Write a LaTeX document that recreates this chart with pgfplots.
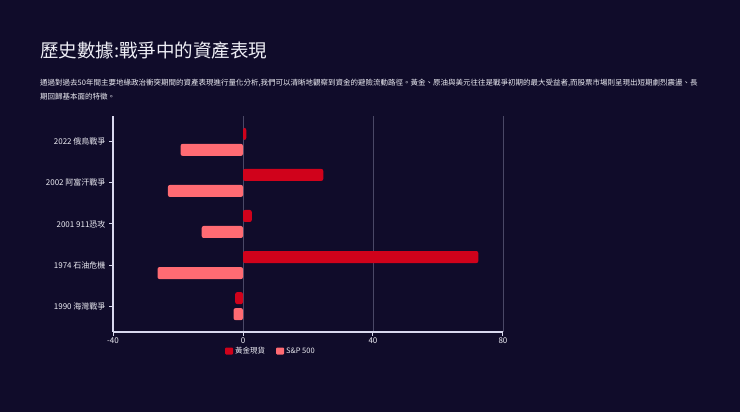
\documentclass[border=0pt]{standalone}
\usepackage{pgfplots}
\pgfplotsset{compat=1.18}
\usepackage{pgfplotstable}
\usepackage{fontspec}
\setmainfont{Noto Sans CJK TC}
\definecolor{bg}{HTML}{100C2A}
\definecolor{gold}{HTML}{D0021B}
\definecolor{spc}{HTML}{FF6B73}
\definecolor{axcol}{HTML}{D8D8EE}
\definecolor{gridc}{HTML}{4A4866}
\definecolor{txt}{HTML}{EEEEF5}
\pgfplotstableread{
y gold sp
0 -2.4 -2.9
1 72.4 -26.3
2 2.7 -12.7
3 24.7 -23.1
4 1.0 -19.2
}\datatab
\begin{document}
\begin{tikzpicture}
\fill[bg] (0pt,0pt) rectangle (740pt,412pt);
\node[anchor=west,text=txt,font=\fontsize{18.5}{20}\selectfont,inner sep=0pt] at (40pt,362pt) {歷史數據:戰爭中的資產表現};
\node[anchor=north west,text=txt,font=\fontsize{7.5}{14}\selectfont,inner sep=0pt,align=left] at (40pt,333pt)
{通過對過去50年間主要地緣政治衝突期間的資產表現進行量化分析,我們可以清晰地觀察到資金的避險流動路徑。黃金、原油與美元往往是戰爭初期的最大受益者,而股票市場則呈現出短期劇烈震盪、長\\期回歸基本面的特徵。};
\begin{axis}[
  at={(113pt,80pt)}, anchor=south west,
  scale only axis, width=390pt, height=216pt,
  xbar, bar width=12pt,
  xmin=-40, xmax=80, ymin=-0.63, ymax=4.63,
  xtick={-40,0,40,80},
  ytick={0,1,2,3,4},
  yticklabels={1990 海灣戰爭,1974 石油危機,2001 911恐攻,2002 阿富汗戰爭,2022 俄烏戰爭},
  axis x line*=bottom, axis y line*=left,
  axis line style={axcol,line width=1.2pt,-},
  tick style={axcol,line width=1pt},
  tick align=outside,
  major tick length=4pt,
  xmajorgrids, grid style={gridc,line width=0.6pt},
  /pgf/number format/assume math mode=true,
  ticklabel style={text=txt,font=\fontsize{8}{9}\selectfont},
  xticklabel style={yshift=2pt},
  legend style={at={(0.405,-0.088)},anchor=center,draw=none,fill=none,
    text=txt,font=\fontsize{7.5}{8}\selectfont,legend columns=2,
    /tikz/every even column/.append style={column sep=9pt}},
  legend image code/.code={\fill[#1,rounded corners=1pt] (0pt,-3.5pt) rectangle (8pt,3.5pt);},
]
\addplot[fill=gold,draw=none,bar shift=8pt,rounded corners=2pt] table[x=gold,y=y]{\datatab};
\addlegendentry{黃金現貨}
\addplot[fill=spc,draw=none,bar shift=-8pt,rounded corners=2pt] table[x=sp,y=y]{\datatab};
\addlegendentry{S\&P 500}
\end{axis}
\pgfresetboundingbox
\useasboundingbox (0pt,0pt) rectangle (740pt,412pt);
\end{tikzpicture}
\end{document}
